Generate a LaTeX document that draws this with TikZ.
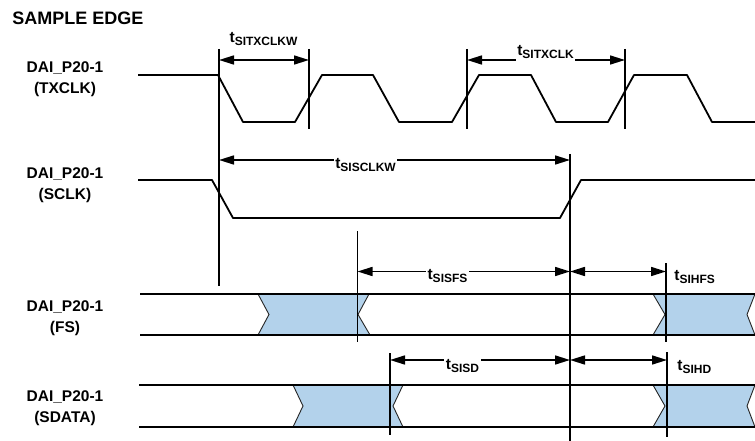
\documentclass[tikz,border=0pt]{standalone}
\usepackage{fontspec}
\setmainfont{Liberation Sans}
\usepackage{xcolor}
\usepackage{tikz}
\usetikzlibrary{arrows.meta, backgrounds}

\definecolor{busblue}{RGB}{179,210,235}
\newcommand{\tsub}[1]{{\fontsize{15.5}{16}\selectfont t}\raisebox{-3pt}{\fontsize{12}{12}\selectfont #1}}

\begin{document}
\begin{tikzpicture}[x=1pt, y=-1pt, background rectangle/.style={fill=white}, show background rectangle, inner frame sep=0pt, line width=1.8pt]
\useasboundingbox (0,0) rectangle (755,441);

\begin{scope}[every node/.style={font=\bfseries\fontsize{15.5}{21}\selectfont, align=center}]
  \node (edge) at (78,18) {\fontsize{18}{18}\selectfont SAMPLE EDGE};
  \node (txclk) at (65,79) {DAI\_P20-1\\(TXCLK)};
  \node (sclk) at (65,185) {DAI\_P20-1\\(SCLK)};
  \node (fs) at (65,318) {DAI\_P20-1\\(FS)};
  \node (sdata) at (65,408) {DAI\_P20-1\\(SDATA)};
\end{scope}

% clocks
\begin{scope}[line join=round]
  \draw (138,75) -- (218,75) -- (243,122) -- (295,122) -- (322,75) -- (373,75) -- (399,122) -- (452,122) -- (479,75) -- (531,75) -- (556,122) -- (608,122) -- (634,75) -- (687,75) -- (712,122) -- (755,122);
  \draw (138,180) -- (212,180) -- (233,218) -- (560,218) -- (581,180) -- (755,180);
\end{scope}

% FS and SDATA buses
\begin{scope}[every path/.style={draw=black!85, fill=busblue, line width=0.9pt}]
  \path (258,294) -- (269,314.5) -- (258,335) -- (370,335) -- (358,314.5) -- (369,294) -- cycle;
  \path (653,294) -- (665,314.5) -- (653,335) -- (755,335) -- (747,314.5) -- (755,294) -- cycle;
  \path (293,385) -- (303,406) -- (293,427) -- (403,427) -- (393,406) -- (403,385) -- cycle;
  \path (653,385) -- (665,406) -- (653,427) -- (755,427) -- (747,406) -- (755,385) -- cycle;
\end{scope}
\draw (140,294) -- (755,294);
\draw (140,335) -- (755,335);
\draw (139,385) -- (755,385);
\draw (139,427) -- (755,427);

% marker lines
\coordinate (m1t) at (219,49);    \coordinate (m1b) at (219,286);
\coordinate (m2t) at (309,49);    \coordinate (m2b) at (309,129);
\coordinate (m3t) at (467,49);    \coordinate (m3b) at (467,129);
\coordinate (m4t) at (625,49);    \coordinate (m4b) at (625,129);
\coordinate (m5t) at (570,154);   \coordinate (m5b) at (570,441);
\coordinate (m6t) at (357.5,231); \coordinate (m6b) at (357.5,342);
\coordinate (m7t) at (666,263);   \coordinate (m7b) at (666,342);
\coordinate (m8t) at (390,353);   \coordinate (m8b) at (390,435);
\coordinate (m9t) at (667,352);   \coordinate (m9b) at (667,437);
\begin{scope}[line width=1.6pt]
  \draw (m1t) -- (m1b);  \draw (m2t) -- (m2b);  \draw (m3t) -- (m3b);
  \draw (m4t) -- (m4b);  \draw (m5t) -- (m5b);  \draw (m6t) -- (m6b);
  \draw (m7t) -- (m7b);  \draw (m8t) -- (m8b);  \draw (m9t) -- (m9b);
\end{scope}

% timing arrows
\coordinate (w1) at (219,60);    \coordinate (w2) at (309,60);
\coordinate (p1) at (467,60);    \coordinate (p2) at (625,60);
\coordinate (c1) at (219,160);   \coordinate (c2) at (570,160);
\coordinate (s1) at (357.5,271.5); \coordinate (s2) at (570,271.5); \coordinate (s3) at (666,271.5);
\coordinate (d1) at (390,360);   \coordinate (d2) at (570,360);   \coordinate (d3) at (667,360);
\begin{scope}[>={Triangle[black, length=15pt, width=9pt]},
              every edge/.style={draw=black, line width=1.6pt}]
    \path [<->] (w1) edge (w2);
    \path [<->] (p1) edge (p2);
    \path [<->] (c1) edge (c2);
    \path [<->] (s1) edge (s2);
    \path [<->] (s2) edge (s3);
    \path [<->] (d1) edge (d2);
    \path [<->] (d2) edge (d3);
\end{scope}

\begin{scope}[every node/.style={font=\bfseries, fill=white, inner sep=1.5pt, anchor=base}]
  \node (lw) at (263.5,43) {\tsub{SITXCLKW}};
  \node (lp) at (545.5,56) {\tsub{SITXCLK}};
  \node (lsclk) at (365.5,168) {\tsub{SISCLKW}};
  \node (lsfs) at (447.5,279) {\tsub{SISFS}};
  \node[anchor=base west] (lhfs) at (672,280) {\tsub{SIHFS}};
  \node (lsd) at (462.5,369) {\tsub{SISD}};
  \node[anchor=base west] (lhd) at (675,370) {\tsub{SIHD}};
\end{scope}

\end{tikzpicture}
\end{document}
